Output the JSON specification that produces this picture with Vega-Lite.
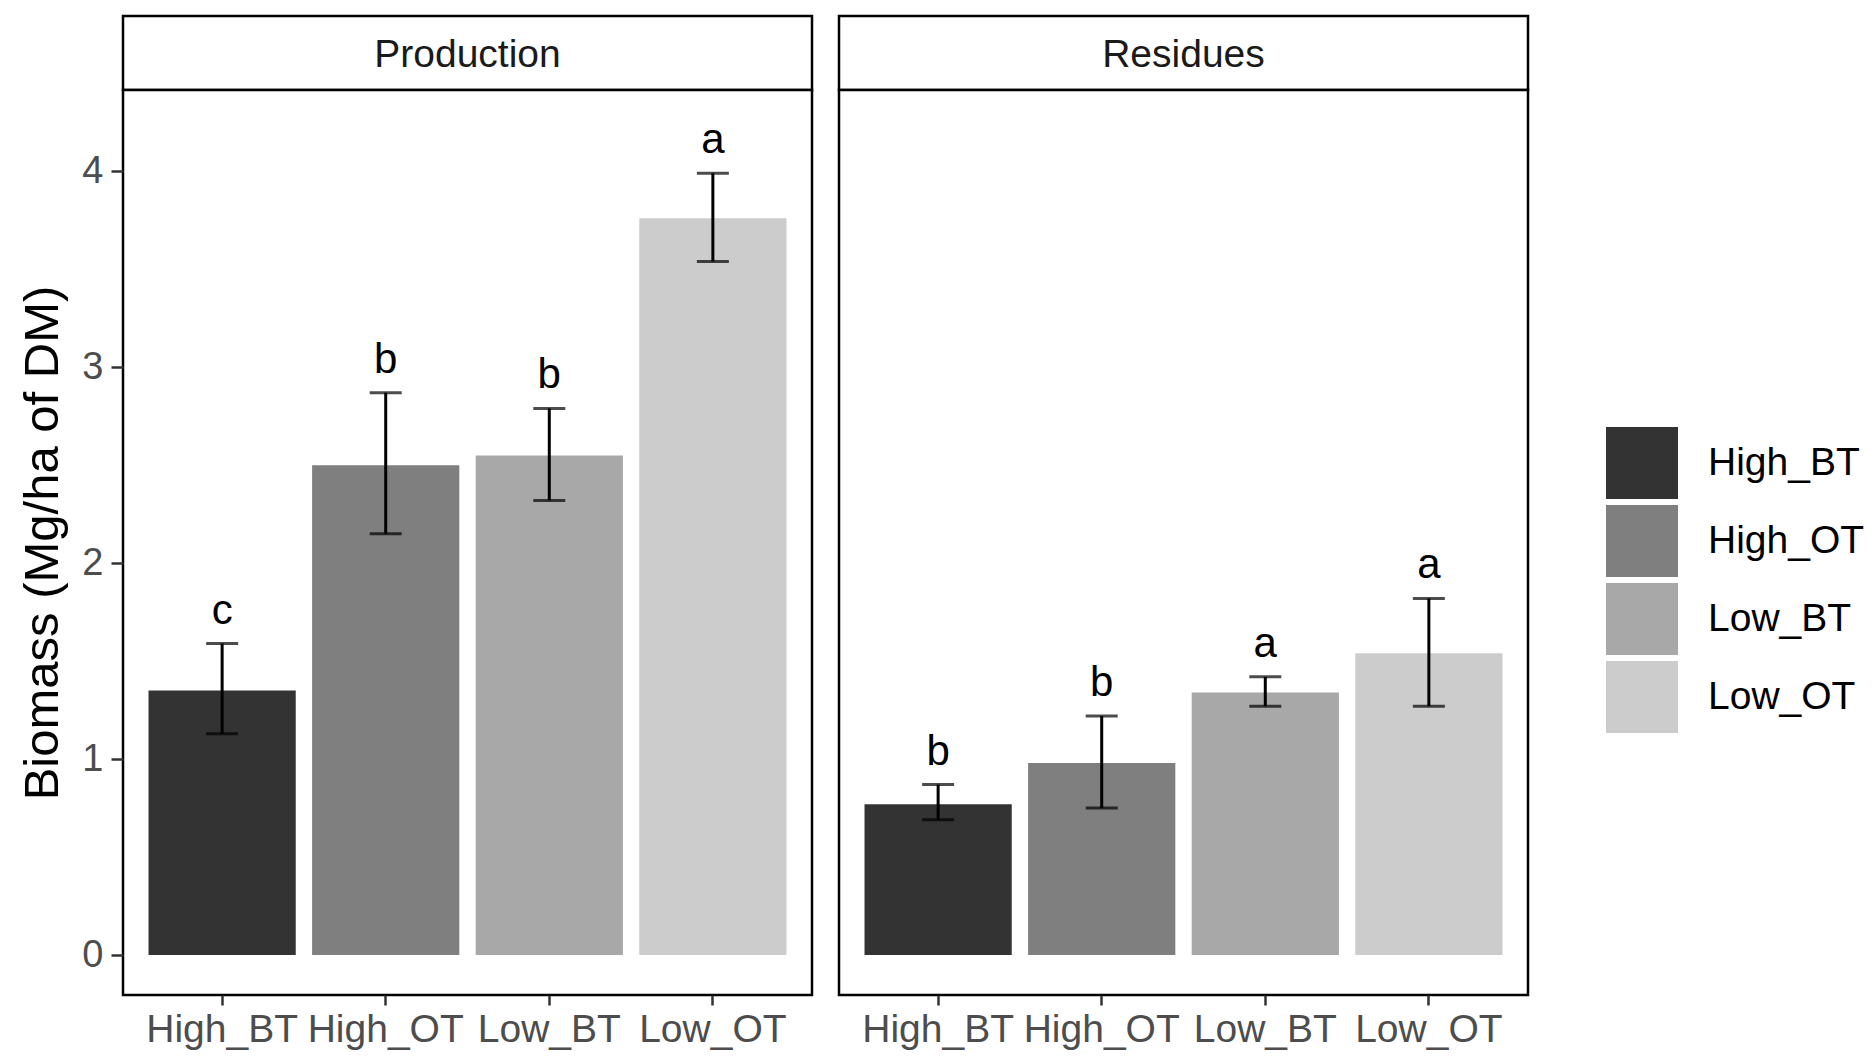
{
  "$schema": "https://vega.github.io/schema/vega-lite/v6.json",
  "background": "white",
  "padding": {"left": 17, "top": 14, "right": 0, "bottom": 0},
  "config": {
    "font": "Liberation Sans",
    "view": {"stroke": "black", "strokeWidth": 2.5, "fill": "white"},
    "concat": {"spacing": 0}
  },
  "datasets": {
    "bars": [
      {"panel": "Production", "treatment": "High_BT", "mean": 1.35, "lower": 1.13, "upper": 1.59, "letter": "c"},
      {"panel": "Production", "treatment": "High_OT", "mean": 2.50, "lower": 2.15, "upper": 2.87, "letter": "b"},
      {"panel": "Production", "treatment": "Low_BT", "mean": 2.55, "lower": 2.32, "upper": 2.79, "letter": "b"},
      {"panel": "Production", "treatment": "Low_OT", "mean": 3.76, "lower": 3.54, "upper": 3.99, "letter": "a"},
      {"panel": "Residues", "treatment": "High_BT", "mean": 0.77, "lower": 0.69, "upper": 0.87, "letter": "b"},
      {"panel": "Residues", "treatment": "High_OT", "mean": 0.98, "lower": 0.75, "upper": 1.22, "letter": "b"},
      {"panel": "Residues", "treatment": "Low_BT", "mean": 1.34, "lower": 1.27, "upper": 1.42, "letter": "a"},
      {"panel": "Residues", "treatment": "Low_OT", "mean": 1.54, "lower": 1.27, "upper": 1.82, "letter": "a"}
    ],
    "strips": [
      {"panel": "Production"},
      {"panel": "Residues"}
    ]
  },
  "spacing": 23,
  "hconcat": [
    {
      "spacing": 0,
      "bounds": "flush",
      "vconcat": [
        {
          "width": 689,
          "height": 74,
          "data": {"name": "strips"},
          "transform": [{"filter": "datum.panel === 'Production'"}],
          "layer": [
            {"mark": {"type": "rect", "fill": "white", "stroke": "black", "strokeWidth": 2.5}, "encoding": {}},
            {"mark": {"type": "text", "fontSize": 39, "color": "#1A1A1A", "baseline": "middle", "align": "center", "dy": 2}, "encoding": {"text": {"field": "panel"}}}
          ]
        },
        {
          "width": 689,
          "height": 905,
          "data": {"name": "bars"},
          "transform": [{"filter": "datum.panel === 'Production'"}],
          "encoding": {
            "x": {
              "field": "treatment", "type": "nominal",
              "sort": ["High_BT", "High_OT", "Low_BT", "Low_OT"],
              "scale": {"paddingInner": 0.1, "paddingOuter": 0.156},
              "axis": {"title": null, "labelAngle": 0, "labelFontSize": 39, "labelColor": "#4D4D4D", "tickColor": "#333333", "tickSize": 10, "tickWidth": 2.5, "domain": false, "labelPadding": 5}
            }
          },
          "layer": [
            {
              "mark": {"type": "bar"},
              "encoding": {
                "y": {
                  "field": "mean", "type": "quantitative",
                  "scale": {"domain": [-0.204, 4.415], "nice": false, "zero": false},
                  "axis": {"title": "Biomass (Mg/ha of DM)", "values": [0, 1, 2, 3, 4], "format": "d", "grid": false, "domain": false, "tickSize": 12, "tickWidth": 2.5, "tickColor": "#333333", "labelPadding": 8, "labelFontSize": 38, "labelColor": "#4D4D4D", "titleFontSize": 49, "titleFontWeight": "normal", "titleColor": "black", "titlePadding": 14}
                },
                "y2": {"datum": 0},
                "color": {
                  "field": "treatment", "type": "nominal",
                  "scale": {"domain": ["High_BT", "High_OT", "Low_BT", "Low_OT"], "range": ["#333333", "#7F7F7F", "#A8A8A8", "#CCCCCC"]},
                  "legend": {"title": null, "orient": "none", "legendX": 1483, "legendY": 411, "symbolType": "square", "symbolSize": 5184, "symbolStrokeWidth": 0, "symbolOpacity": 1, "labelFontSize": 39, "labelColor": "black", "rowPadding": 6, "labelOffset": 30}
                }
              }
            },
            {
              "mark": {"type": "rule", "color": "black", "strokeWidth": 3},
              "encoding": {"y": {"field": "lower", "type": "quantitative"}, "y2": {"field": "upper"}}
            },
            {
              "mark": {"type": "tick", "color": "black", "size": 32, "thickness": 3},
              "encoding": {"y": {"field": "upper", "type": "quantitative"}}
            },
            {
              "mark": {"type": "tick", "color": "black", "size": 32, "thickness": 3},
              "encoding": {"y": {"field": "lower", "type": "quantitative"}}
            },
            {
              "mark": {"type": "text", "fontSize": 42, "color": "black", "baseline": "alphabetic", "dy": -20},
              "encoding": {"y": {"field": "upper", "type": "quantitative"}, "text": {"field": "letter"}}
            }
          ]
        }
      ]
    },
    {
      "spacing": 0,
      "bounds": "flush",
      "vconcat": [
        {
          "width": 689,
          "height": 74,
          "data": {"name": "strips"},
          "transform": [{"filter": "datum.panel === 'Residues'"}],
          "layer": [
            {"mark": {"type": "rect", "fill": "white", "stroke": "black", "strokeWidth": 2.5}, "encoding": {}},
            {"mark": {"type": "text", "fontSize": 39, "color": "#1A1A1A", "baseline": "middle", "align": "center", "dy": 2}, "encoding": {"text": {"field": "panel"}}}
          ]
        },
        {
          "width": 689,
          "height": 905,
          "data": {"name": "bars"},
          "transform": [{"filter": "datum.panel === 'Residues'"}],
          "encoding": {
            "x": {
              "field": "treatment", "type": "nominal",
              "sort": ["High_BT", "High_OT", "Low_BT", "Low_OT"],
              "scale": {"paddingInner": 0.1, "paddingOuter": 0.156},
              "axis": {"title": null, "labelAngle": 0, "labelFontSize": 39, "labelColor": "#4D4D4D", "tickColor": "#333333", "tickSize": 10, "tickWidth": 2.5, "domain": false, "labelPadding": 5}
            }
          },
          "layer": [
            {
              "mark": {"type": "bar"},
              "encoding": {
                "y": {
                  "field": "mean", "type": "quantitative",
                  "scale": {"domain": [-0.204, 4.415], "nice": false, "zero": false},
                  "axis": null
                },
                "y2": {"datum": 0},
                "color": {"field": "treatment", "type": "nominal"}
              }
            },
            {
              "mark": {"type": "rule", "color": "black", "strokeWidth": 3},
              "encoding": {"y": {"field": "lower", "type": "quantitative"}, "y2": {"field": "upper"}}
            },
            {
              "mark": {"type": "tick", "color": "black", "size": 32, "thickness": 3},
              "encoding": {"y": {"field": "upper", "type": "quantitative"}}
            },
            {
              "mark": {"type": "tick", "color": "black", "size": 32, "thickness": 3},
              "encoding": {"y": {"field": "lower", "type": "quantitative"}}
            },
            {
              "mark": {"type": "text", "fontSize": 42, "color": "black", "baseline": "alphabetic", "dy": -20},
              "encoding": {"y": {"field": "upper", "type": "quantitative"}, "text": {"field": "letter"}}
            }
          ]
        }
      ]
    }
  ]
}
